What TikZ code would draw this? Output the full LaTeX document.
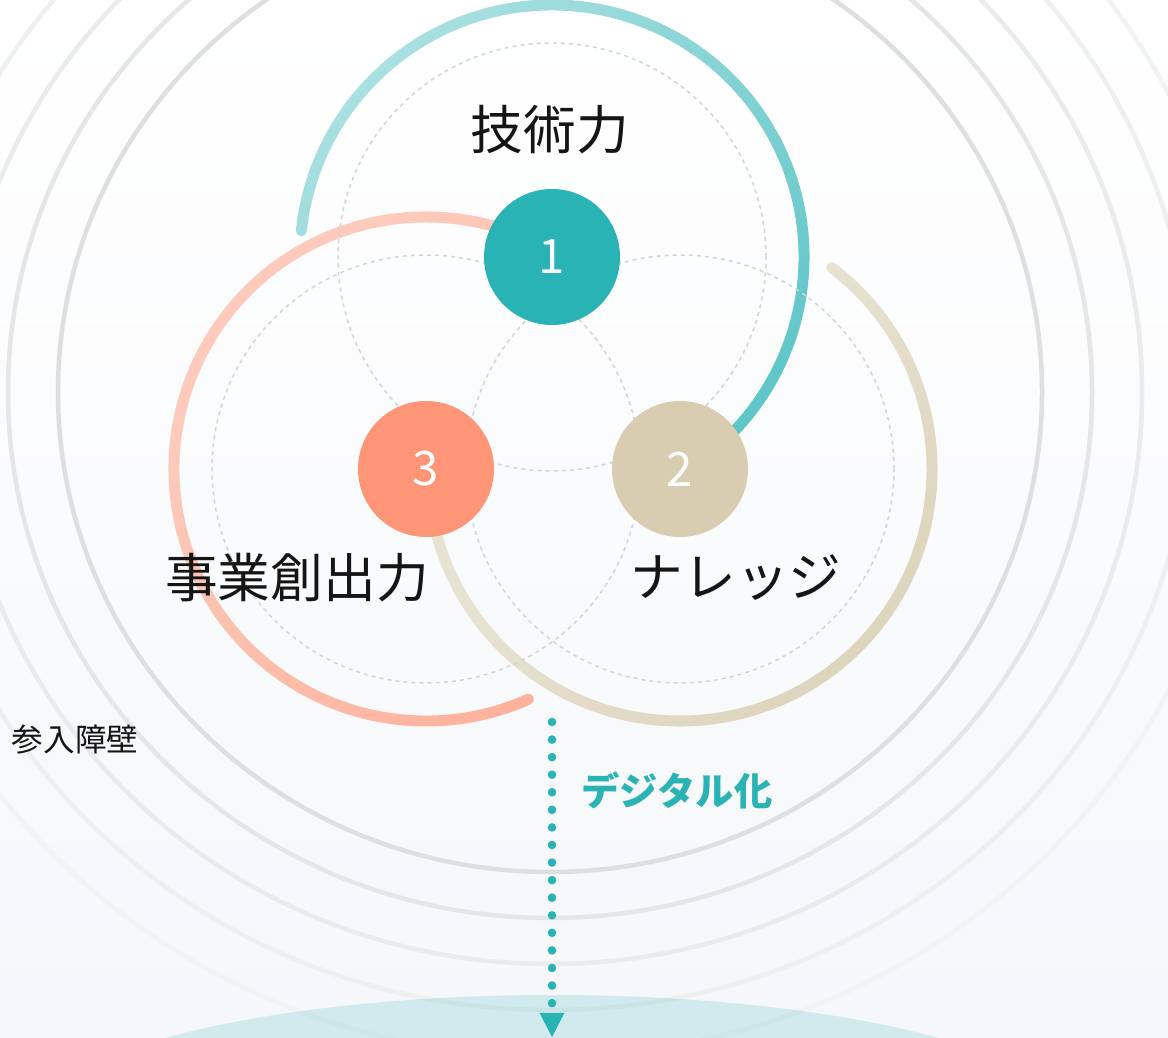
\documentclass[tikz,border=0pt]{standalone}
\usepackage{fontspec}
\newfontfamily\cjk{Noto Sans CJK JP}
\usepackage{tikz}
\usetikzlibrary{arrows.meta}

\definecolor{techc}{HTML}{2AB3B4}
\definecolor{techL}{HTML}{AAE0E1}
\definecolor{knowc}{HTML}{D9CDB1}
\definecolor{knowL}{HTML}{E8E2D2}
\definecolor{knowD}{HTML}{D9CEB3}
\definecolor{bizc}{HTML}{FF9577}
\definecolor{bizL}{HTML}{FDCABB}
\definecolor{bgbot}{HTML}{F5F7FA}
\definecolor{guidec}{HTML}{D3D4D8}
\definecolor{labelc}{HTML}{151515}
\definecolor{ring1}{HTML}{DEDFE1}
\definecolor{ring2}{HTML}{E5E6E8}
\definecolor{ring3}{HTML}{EAEBED}
\definecolor{ring4}{HTML}{EEEFF1}
\definecolor{ring5}{HTML}{F2F3F5}
\colorlet{techM}{techL!40!techc}
\colorlet{bizM}{bizL!50!bizc}

\pgfdeclareverticalshading{techshade}{100bp}{color(0bp)=(techc); color(14bp)=(techc);
  color(23bp)=(techM); color(74bp)=(techL); color(100bp)=(techL)}
\pgfdeclareverticalshading{bizshade}{100bp}{color(0bp)=(bizc); color(6bp)=(bizc);
  color(16bp)=(bizM); color(63bp)=(bizL); color(100bp)=(bizL)}
\pgfdeclareverticalshading{knowshade}{100bp}{color(0bp)=(knowD); color(16bp)=(knowD);
  color(58bp)=(knowL); color(100bp)=(knowL)}

\begin{document}
\begin{tikzpicture}[x=0.02cm, y=0.02cm,
    ring/.style={line width=2.56pt},
    guide/.style={draw=guidec, line width=0.85pt, dash pattern=on 2.3pt off 2.3pt},
    num/.style={circle, minimum size=2.72cm, inner sep=0pt, text=white,
      font=\cjk\fontsize{27}{27}\selectfont},
    biglabel/.style={inner sep=0pt, text=labelc, font=\cjk\fontsize{30}{30}\selectfont},
    smalllabel/.style={inner sep=0pt, text=labelc, font=\cjk\fontsize{18}{18}\selectfont},
    digilabel/.style={inner sep=0pt, text=techc, font=\cjk\bfseries\fontsize{21.8}{22}\selectfont},
    dotline/.style={draw=techc, line width=4.9pt, line cap=round, dash pattern=on 0pt off 10pt}]
  \useasboundingbox (0,0) rectangle (1168,1037);
  \clip (0,0) rectangle (1168,1037);
  \shade [top color=white, bottom color=bgbot] (0,0) rectangle (1168,1037);

  % barrier rings
  \coordinate (ctr) at (550,645);
  \draw [ring, draw=ring1] (ctr) ellipse [x radius=492, y radius=480];
  \draw [ring, draw=ring2] (ctr) ellipse [x radius=542, y radius=526];
  \draw [ring, draw=ring3] (ctr) ellipse [x radius=592, y radius=572];
  \draw [ring, draw=ring4] (ctr) ellipse [x radius=642, y radius=618];
  \draw [ring, draw=ring5] (ctr) ellipse [x radius=692, y radius=664];

  \fill [techc, opacity=0.18] (552,-88) ellipse [x radius=520, y radius=130];

  \coordinate (p1) at (552,780);
  \coordinate (p2) at (680,568);
  \coordinate (p3) at (426,568);

  % thick arcs
  \shade [shading=techshade, shading angle=45]
    ([shift={(174:257.5)}]p1) arc [start angle=174, end angle=-60, radius=257.5]
    -- ([shift={(-60:246.5)}]p1) arc [start angle=-60, end angle=174, radius=246.5]
    arc [start angle=354, end angle=174, radius=5.5] -- cycle;
  \shade [shading=bizshade, shading angle=45]
    ([shift={(60:257.5)}]p3) arc [start angle=60, end angle=294, radius=257.5]
    arc [start angle=294, end angle=474, radius=5.5]
    arc [start angle=294, end angle=60, radius=246.5] -- cycle;
  \shade [shading=knowshade, shading angle=45]
    ([shift={(53:257.5)}]p2) arc [start angle=53, end angle=-180, radius=257.5]
    -- ([shift={(-180:246.5)}]p2) arc [start angle=-180, end angle=53, radius=246.5]
    arc [start angle=233, end angle=53, radius=5.5] -- cycle;

  \draw [guide] (p1) circle [radius=214];
  \draw [guide] (p2) circle [radius=214];
  \draw [guide] (p3) circle [radius=214];

  \node [num, fill=techc] (n1) at (p1) {1};
  \node [num, fill=knowc] (n2) at (p2) {2};
  \node [num, fill=bizc] (n3) at (p3) {3};

  \node [biglabel] (tech) at (550,907) {技術力};
  \node [biglabel] (biz) at (297,459) {事業創出力};
  \node [biglabel] (know) at (736,459) {ナレッジ};
  \node [smalllabel] (barrier) at (75,297) {参入障壁};
  \node [digilabel] (digi) at (677,247) {デジタル化};

  \coordinate (dtop) at (552,315);
  \coordinate (dbot) at (552,0);
  \draw [dotline, -{Triangle[length=13.7pt, width=14.2pt, line width=0pt]}] (dtop) -- (dbot);
\end{tikzpicture}
\end{document}
